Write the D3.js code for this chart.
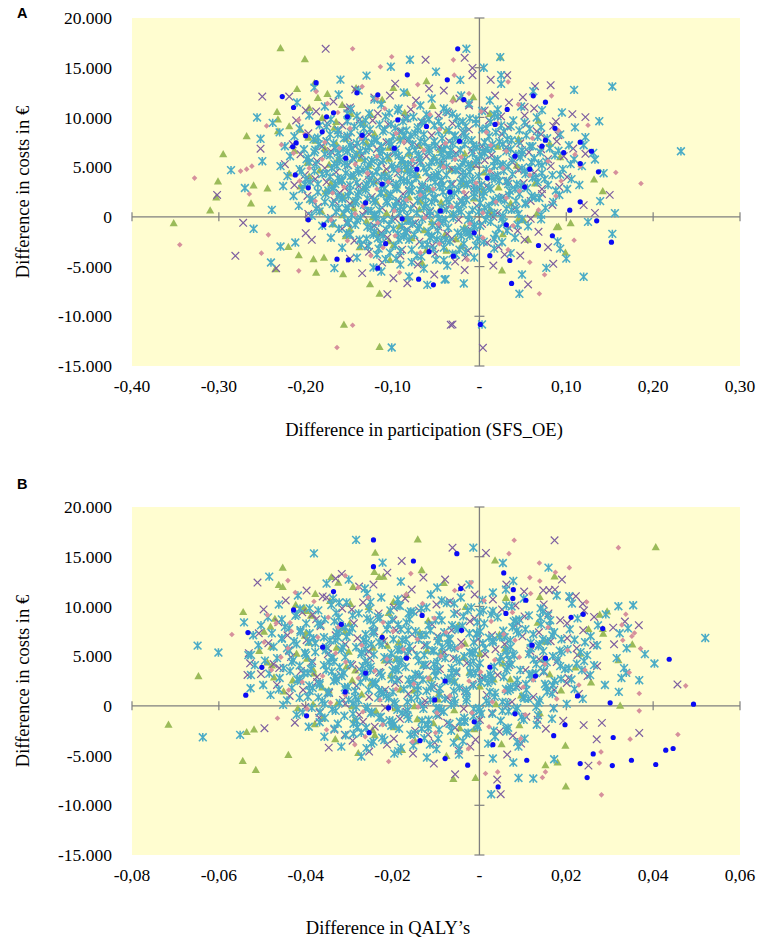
<!DOCTYPE html>
<html>
<head>
<meta charset="utf-8">
<script src="https://cdn.jsdelivr.net/npm/d3@7"></script>
<style>
  body { margin: 0; background: #fff; }
  svg text { font-family: "Liberation Serif", "Times New Roman", serif; fill: #000; }
</style>
</head>
<body>
<svg id="chart" width="765" height="946"></svg>
<script>

// ---- tick values / labels ----
var costTicks = [20000, 15000, 10000, 5000, 0, -5000, -10000, -15000];
var costLabels = ["20.000", "15.000", "10.000", "5.000", "0", "-5.000", "-10.000", "-15.000"];
var partTicks = [-0.4, -0.3, -0.2, -0.1, 0, 0.1, 0.2, 0.3];
var partLabels = ["-0,40", "-0,30", "-0,20", "-0,10", "-", "0,10", "0,20", "0,30"];
var qalyTicks = [-0.08, -0.06, -0.04, -0.02, 0, 0.02, 0.04, 0.06];
var qalyLabels = ["-0,08", "-0,06", "-0,04", "-0,02", "-", "0,02", "0,04", "0,06"];

// ---- panel A: difference in participation (x) vs difference in costs (y), flat x,y pairs ----
var aGreen = [-.229,16900,-.201,15800,-.190,13400,-.233,10500,-.232,9750,-.232,8550,-.219,9050,-.268,8050,-.295,6250,-.301,3500,-.303,1900,-.310,600,-.260,3100,-.244,2800,-.263,1300,-.352,-700,.024,16000,.132,3700,.142,2520,.099,-3650,.105,-700,.056,-2350,.091,-1040,.026,-5450,-.235,-5330,-.188,-5660,-.220,-3080,-.208,-3920,-.191,-4320,-.179,-4160,-.157,-5830,-.126,-6840,-.115,-7780,-.156,-10900,-.115,-13140,
  -.030,11800,-.007,11970,.012,10300,.068,9620,.045,7780,.081,7290,.093,5950,.066,250,.045,-250,.089,-1100,-.038,-3450,.014,250,
  -.21,12800,-.175,12300,-.158,11200,-.196,10900,-.181,9900,-.148,10300,-.206,8700,-.167,8900,-.134,9400,-.112,11700,-.083,12400,-.054,11100,-.189,7600,-.154,7800,-.121,8300,-.092,7900,-.213,6600,-.178,6800,-.141,6300,-.104,6900,-.069,7100,-.038,8600,-.198,5400,-.163,5700,-.127,5100,-.088,5500,-.052,5900,-.017,6300,.021,7000,-.219,4300,-.184,4600,-.146,4000,-.109,4400,-.071,4100,-.033,4700,.005,4400,.043,5100,-.206,3000,-.171,3300,-.133,2800,-.095,3100,-.058,2700,-.019,3200,.022,2900,.064,3300,-.194,1700,-.157,2000,-.119,1500,-.081,1900,-.044,1400,-.006,1800,.036,1300,-.182,500,-.145,800,-.107,300,-.069,700,-.031,200,.012,600,.051,-400,-.168,-800,-.13,-500,-.092,-1000,-.055,-600,-.017,-1100,.027,-1800,-.154,-2000,-.116,-1700,-.078,-2200,-.04,-1900,-.138,-3100,-.099,-2900,-.061,-3400,-.021,-3000,-.103,-4400,-.066,-4700,
  -.186,11900,-.142,12900,-.099,12900,-.061,13600,-.165,9500,-.125,10200,-.086,10400,-.197,7900,-.165,7300,-.13,7400,-.173,5200,-.137,5800,-.104,5800,-.081,6300,-.045,6700,-.196,4000,-.159,3600,-.121,3500,-.084,4700,-.044,5300,-.009,5200,-.177,2500,-.145,1500,-.107,2200,-.068,1500,-.032,2500,.004,2600,-.158,100,-.123,-100,-.084,-300,-.046,600,-.149,-1300,-.104,-2500,-.064,-1400,-.027,-2300];

var aPurple = [-.177,16900,-.062,15800,-.250,12100,-.219,12100,-.200,10700,-.252,6850,-.302,2200,-.272,-600,-.017,16000,-.008,14980,-.008,14250,.013,13780,.032,14250,.064,13140,.082,13240,.050,12030,.052,11060,.063,10900,.107,10330,.122,10030,.085,9150,.091,8210,.108,6870,.122,6340,.150,2210,.120,1180,.133,400,.079,-3050,.085,-4720,.056,-6800,.047,-3890,-.031,-10820,.004,-13170,-.017,-5350,-.281,-3920,-.234,-5160,-.106,-7780,-.135,-5660,-.099,-6170,-.083,-6670,-.033,-10860,-.197,300,-.193,-2310,-.200,-1640,
  -.143,12800,-.097,13400,-.041,12700,.018,12200,-.168,11600,-.121,12000,-.073,11700,-.023,11900,.034,11500,-.188,10600,-.152,10900,-.117,10400,-.079,10800,-.036,10500,.006,10700,.052,10200,-.211,9700,-.175,9400,-.138,9800,-.105,9300,-.067,9600,-.031,9400,.011,9700,.054,9300,.088,9600,-.197,8400,-.162,8700,-.127,8300,-.091,8600,-.055,8200,-.019,8500,.026,8300,.066,8600,-.215,7300,-.176,7600,-.143,7100,-.107,7500,-.072,7200,-.035,7600,.003,7100,.047,7400,.089,7600,-.206,6300,-.171,6600,-.135,6200,-.099,6500,-.061,6100,-.027,6400,.014,6200,.057,6500,.097,6100,-.224,5300,-.187,5600,-.151,5200,-.113,5500,-.077,5100,-.042,5400,-.004,5200,.038,5500,.082,5100,-.201,4200,-.165,4500,-.128,4100,-.094,4400,-.058,4000,-.021,4300,.019,4100,.063,4400,.101,4000,-.213,3200,-.176,3500,-.139,3100,-.103,3400,-.066,3000,-.031,3300,.008,3100,.051,3400,.092,3000,-.198,2100,-.161,2400,-.124,2000,-.088,2300,-.052,1900,-.016,2200,.027,2000,.072,2300,-.186,1000,-.149,1300,-.112,900,-.076,1200,-.039,800,-.003,1100,.041,900,.084,1200,-.171,-100,-.134,200,-.097,-200,-.061,100,-.024,-300,.016,0,.059,-200,-.158,-1200,-.121,-900,-.083,-1300,-.047,-1000,-.009,-1400,.034,-1100,.068,-1500,-.144,-2400,-.106,-2100,-.069,-2500,-.032,-2200,.009,-2600,.052,-2300,-.127,-3500,-.089,-3300,-.051,-3700,-.013,-3400,.029,-3800,-.112,-4600,-.071,-4800,-.028,-4500,.016,-4900,-.149,-4200,-.052,-5800,
  -.149,11000,-.103,12200,-.058,12900,-.012,11200,.025,10100,-.158,9200,-.123,9700,-.085,9900,-.047,10200,-.012,8800,.033,9000,.071,8300,-.181,7100,-.151,8000,-.118,6800,-.083,7600,-.046,7000,-.009,6700,.031,7000,.071,6800,-.178,4900,-.145,5800,-.107,4800,-.069,5700,-.032,4800,.006,5700,.045,4700,.079,5800,-.189,3800,-.155,2900,-.117,3700,-.081,2700,-.044,3700,-.006,2800,.033,3600,.072,2800,-.167,1600,-.131,600,-.093,1600,-.057,500,-.021,1500,.021,400,.059,1600,-.152,-700,-.113,-1600,-.074,-600,-.037,-1700,.003,-700,.044,-1400,-.129,-2900,-.091,-3900,-.054,-2900,-.016,-4100,.022,-3000];

var aCyan = [-.080,15800,-.102,15100,-.256,10000,-.238,9450,-.252,7850,-.286,4700,-.239,700,-.015,16900,.024,16060,-.022,13780,.025,14250,.025,13380,.109,12770,.153,13110,.062,12640,.072,10730,.138,9620,.122,8010,.131,6440,.133,5770,.232,6600,.143,4390,.139,1580,.156,370,.153,-1710,.090,-2470,.093,-3190,.077,-5130,.120,-6030,.046,-7740,.049,-5800,.003,-10820,-.040,-6300,-.018,-6700,-.229,-2980,-.240,-4590,-.212,-2580,-.167,-5160,-.113,-5500,-.081,-6000,-.060,-6840,-.039,-6270,-.101,-13140,
  -.19,13000,-.16,13800,-.13,14200,-.05,14600,.005,15000,-.21,11500,-.23,8500,-.25,5600,-.27,2900,-.26,-1200,.095,10500,.11,9000,.115,3200,.125,-500,.1,-4200,.085,1500,.105,5300,.12,7200,
  -.162,12300,-.121,11800,-.087,12500,-.055,11900,-.021,12200,.012,11700,-.139,12700,-.178,11100,-.148,10800,-.113,11300,-.094,10700,-.068,11200,-.041,10900,-.012,11400,.021,10800,.048,11100,-.196,10200,-.171,9800,-.152,10400,-.131,9700,-.108,10100,-.083,9900,-.061,10300,-.047,9600,-.026,10000,-.004,9800,.017,10300,.039,9700,.066,10000,-.207,8900,-.184,9200,-.163,8700,-.144,9100,-.126,8800,-.102,9300,-.089,8600,-.071,9000,-.052,9200,-.035,8700,-.016,9100,.003,8800,.025,9200,.046,8700,.071,9000,-.213,8100,-.191,7800,-.172,8300,-.156,7900,-.137,8200,-.118,7700,-.099,8100,-.081,7800,-.064,8300,-.043,7900,-.028,8200,-.009,7700,.011,8100,.032,7800,.054,8200,.078,7900,.093,8300,-.224,7100,-.202,6800,-.185,7300,-.166,6900,-.149,7200,-.131,6700,-.113,7100,-.096,6800,-.077,7300,-.058,6900,-.039,7200,-.022,6700,-.003,7000,.015,7300,.036,6800,.058,7100,.081,6900,.103,7200,-.218,6100,-.199,5800,-.178,6300,-.161,5900,-.142,6200,-.124,5700,-.106,6100,-.089,5800,-.07,6300,-.053,5900,-.034,6200,-.017,5700,.002,6100,.021,5800,.042,6300,.063,5900,.087,6200,.109,5800,-.229,5100,-.207,4800,-.188,5300,-.17,4900,-.152,5200,-.134,4700,-.116,5100,-.099,4800,-.082,5300,-.064,4900,-.045,5200,-.028,4700,-.01,5100,.008,4800,.027,5300,.049,4900,.072,5200,.096,4800,.118,5100,-.221,4100,-.2,3800,-.181,4300,-.163,3900,-.145,4200,-.127,3700,-.109,4100,-.091,3800,-.074,4300,-.056,3900,-.038,4200,-.02,3700,-.001,4100,.018,3800,.038,4300,.061,3900,.084,4200,.106,3800,-.226,3100,-.204,2800,-.186,3300,-.168,2900,-.149,3200,-.131,2700,-.113,3100,-.095,2800,-.078,3300,-.06,2900,-.042,3200,-.024,2700,-.006,3100,.013,2800,.033,3300,.055,2900,.079,3200,.101,2800,-.214,2100,-.195,1800,-.177,2300,-.158,1900,-.14,2200,-.122,1700,-.104,2100,-.086,1800,-.069,2300,-.051,1900,-.033,2200,-.015,1700,.004,2100,.024,1800,.046,2300,.069,1900,.092,2200,-.208,1100,-.188,800,-.169,1300,-.151,900,-.133,1200,-.115,700,-.097,1100,-.079,800,-.062,1300,-.044,900,-.026,1200,-.008,700,.011,1100,.031,800,.053,1300,.076,900,-.193,100,-.174,-200,-.156,300,-.137,-100,-.119,200,-.101,-300,-.083,100,-.066,-200,-.048,300,-.03,-100,-.012,200,.007,-300,.027,100,.049,-200,.071,200,-.181,-900,-.162,-1200,-.143,-800,-.125,-1100,-.107,-1300,-.089,-900,-.071,-1200,-.054,-800,-.036,-1100,-.018,-1300,.001,-900,.022,-1200,.044,-800,-.171,-2100,-.149,-1800,-.13,-2200,-.111,-1900,-.093,-2300,-.075,-1800,-.057,-2100,-.039,-2300,-.021,-1900,-.002,-2200,.019,-1800,.041,-2100,-.158,-3100,-.136,-2800,-.116,-3200,-.097,-2900,-.078,-3300,-.06,-2800,-.041,-3100,-.023,-3300,-.004,-2900,.017,-3200,-.141,-4100,-.118,-3800,-.096,-4200,-.072,-3900,-.05,-4300,-.027,-3800,-.006,-4100,-.122,-5100,-.091,-4800,-.064,-5200,-.037,-4900,
  -.148,8500,-.111,8600,-.074,8400,-.047,8600,-.018,8400,.019,8500,-.176,7600,-.141,7400,-.104,7500,-.068,7600,-.031,7400,.006,7500,.045,7600,-.19,6500,-.152,6600,-.115,6400,-.081,6600,-.044,6500,-.008,6400,.031,6600,.07,6500,-.196,5500,-.161,5600,-.125,5400,-.09,5600,-.055,5500,-.019,5400,.017,5600,.06,5500,-.19,4600,-.154,4400,-.118,4500,-.083,4600,-.047,4400,-.011,4500,.028,4600,.072,4400,-.195,3500,-.158,3600,-.122,3400,-.087,3600,-.051,3500,-.015,3400,.023,3600,.067,3500,-.186,2500,-.149,2600,-.113,2400,-.078,2600,-.042,2500,-.006,2400,.035,2600,-.178,1500,-.142,1600,-.106,1400,-.071,1600,-.035,1500,.001,1400,.042,1600,-.165,500,-.128,600,-.092,400,-.057,600,-.021,500,.017,400,-.152,-500,-.116,-600,-.08,-400,-.045,-600,-.009,-500,-.121,-1500,-.084,-1600,-.048,-1400,-.012,-1600,
  -.152,9600,-.127,10400,-.093,10900,-.066,9500,-.038,10600,-.011,9900,.021,10100,-.163,8300,-.133,8900,-.115,9300,-.084,8700,-.058,9800,-.029,8100,-.004,9400,.028,8600,.052,9500,-.168,7400,-.147,6900,-.121,7800,-.101,7300,-.079,8200,-.063,7500,-.041,6800,-.024,7700,-.007,7200,.014,6900,.037,7700,.061,7100,-.172,6200,-.155,5400,-.137,6600,-.118,5900,-.097,6400,-.086,5300,-.069,6000,-.049,5600,-.033,6700,-.013,5300,.006,6400,.024,5200,.047,6000,.068,5400,-.176,4400,-.159,3700,-.14,4800,-.123,4200,-.105,3600,-.09,4700,-.073,3900,-.061,4500,-.044,3600,-.027,4700,-.008,3800,.012,4500,.031,3600,.053,4300,.075,3800,-.169,2700,-.151,2100,-.131,3000,-.114,2400,-.096,3300,-.081,2600,-.062,2000,-.046,3000,-.029,2400,-.014,3200,.005,2500,.022,1900,.041,2800,.06,2100,-.162,900,-.143,1400,-.125,600,-.107,1600,-.091,1000,-.072,400,-.055,1500,-.038,700,-.019,1300,-.001,500,.018,1500,.037,700,-.151,-600,-.129,-1000,-.11,-300,-.094,-1700,-.077,-700,-.059,-1500,-.042,-400,-.025,-1600,-.006,-800,.013,-500,.032,-1400,-.138,-2300,-.114,-2700,-.087,-2000,-.066,-2800,-.044,-2400,-.018,-2700,.005,-2500,-.103,-3600,-.067,-4000,-.031,-3700,
  -.133,8100,-.109,8800,-.088,9600,-.071,8700,-.044,9100,-.019,9600,.008,8900,.036,9100,-.157,6800,-.134,7600,-.112,6600,-.091,7700,-.074,6700,-.052,7600,-.036,6200,-.017,7300,.004,6600,.027,7300,.049,6700,-.164,5100,-.146,5900,-.129,4900,-.111,5700,-.094,4900,-.078,5700,-.058,5100,-.042,5900,-.022,5000,-.003,5800,.017,5100,.038,5800,.058,5000,-.166,3300,-.148,4100,-.13,3300,-.113,4000,-.096,3000,-.08,4300,-.066,3200,-.049,4200,-.033,3300,-.016,4200,.002,3200,.021,4200,.043,3300,.065,4000,-.158,1800,-.139,2500,-.12,1500,-.102,2300,-.086,1400,-.068,2700,-.052,1800,-.035,2600,-.02,1600,-.003,2800,.016,1700,.034,2200,.053,1400,-.147,200,-.119,-100,-.099,800,-.082,-400,-.064,900,-.047,-200,-.03,300,-.013,-300,.006,900,.026,-200,.045,300,-.122,-1800,-.099,-1200,-.081,-2300,-.055,-1900,-.034,-2500,-.011,-1900,.017,-2200,
  -.141,10150,-.104,10450,-.076,10050,-.031,10350,.003,10650,-.176,9050,-.137,9350,-.097,8950,-.063,9450,-.024,9250,.013,9550,.058,8850,-.186,7950,-.152,8150,-.124,7450,-.087,8150,-.051,7150,-.016,8050,.023,7550,.067,8050,-.189,6750,-.163,6450,-.127,6950,-.093,6150,-.058,6650,-.028,5950,.009,6850,.049,6350,.091,6650,-.197,5950,-.167,5350,-.132,5650,-.101,5150,-.068,5450,-.038,5050,-.004,5550,.033,5050,.077,5550,-.205,4550,-.172,4050,-.139,4450,-.104,3950,-.079,4650,-.052,4150,-.019,4450,.014,3950,.052,4650,.093,4250,-.201,3250,-.174,2650,-.141,3450,-.109,2850,-.083,3550,-.054,2650,-.022,3450,.011,2950,.048,3150,.088,2650,-.192,1650,-.163,2050,-.129,1850,-.096,1550,-.066,2150,-.038,1750,-.006,2050,.029,1650,.064,1950,-.184,550,-.154,850,-.121,250,-.087,750,-.057,150,-.024,650,.009,250,.043,750,.071,-250,-.169,-650,-.141,-350,-.104,-750,-.069,-950,-.039,-250,-.006,-1050,.028,-550,.056,-950,-.153,-1650,-.117,-2150,-.086,-1450,-.049,-2250,-.014,-1550,.026,-2550,-.128,-2950,-.091,-3450,-.053,-3250,-.016,-3550,.036,-3650,-.108,-4250,-.078,-4550,-.041,-4350];

var aPink = [-.146,16900,-.101,16100,-.114,15100,-.208,9750,-.245,9150,-.228,7250,-.328,3900,-.275,4600,-.268,4800,-.262,5100,-.265,2300,-.345,-2800,-.030,15790,-.029,14250,.033,13580,.083,12170,.125,9220,.091,8680,.110,6270,.116,5100,.157,4460,.186,3350,.109,-2350,.075,-5830,.069,-7740,.058,-4560,-.251,-3650,-.243,-1810,-.208,-5430,-.146,-10900,-.164,-13140,
  -.188,12600,-.135,13100,-.071,13300,-.012,12400,-.163,10500,-.109,10900,-.057,10300,.002,10600,.045,11300,-.201,8300,-.149,8900,-.096,8400,-.046,8800,.008,8500,.061,7900,-.214,6400,-.161,6900,-.118,6100,-.064,6700,-.021,6000,.031,6600,.079,5600,-.196,4900,-.143,5300,-.093,4700,-.041,5000,.012,4600,.058,4200,.094,3600,-.207,3600,-.156,3000,-.105,3500,-.053,2800,-.004,3400,.046,2600,.088,2100,-.189,1600,-.134,1100,-.084,1700,-.032,1000,.019,1500,.068,700,-.171,-300,-.117,-600,-.063,-100,-.011,-700,.039,-900,-.152,-2400,-.097,-1900,-.046,-2700,.004,-2100,-.125,-3900,-.068,-3600,-.014,-4300,.033,-3300,-.092,-5600,
  -.175,11400,-.118,11900,-.075,11200,-.031,11600,.021,9400,-.178,7500,-.136,7900,-.087,7500,-.039,7400,.013,7200,-.181,5800,-.129,4400,-.077,5700,-.028,5800,.027,4900,-.169,2400,-.118,2800,-.068,2200,-.018,2500,.031,1900,-.143,300,-.098,600,-.047,-700,.004,400,-.111,-3100];

var aBlue = [-.188,13500,-.227,12100,-.214,11000,-.025,16900,-.037,13780,.062,12170,.076,11530,.116,7510,.076,7710,.072,7110,.097,6470,.129,6600,.116,5360,.137,4530,.116,1510,.104,670,.135,-400,.152,-2550,.068,-2880,.037,-6700,.035,-4390,.001,-10820,-.030,-3950,-.164,-4260,-.151,-4320,-.117,-5160,-.070,-6270,-.053,-6840,-.197,-300,-.179,-800,
  -.186,9450,-.176,10060,-.181,8550,-.168,10460,-.152,10060,-.141,12470,-.117,12270,-.211,7440,-.215,7040,-.200,8150,-.212,4220,-.197,2920,-.083,14280,-.094,9750,
  -.135,8200,-.098,6900,-.061,9100,-.023,7600,.018,9300,.041,6100,-.154,5900,-.112,3300,-.072,4800,-.034,2500,.009,3900,.052,3000,-.131,1400,-.089,-200,-.045,600,-.006,-1600,.031,-800,.084,-1900,-.108,-2700,-.058,-3500,.012,-3900,.058,4800,.087,8900,-.018,11800,.032,10800];

// ---- panel B: difference in QALY's (x) vs difference in costs (y), flat x,y pairs ----
var bGreen = [.0406,15910,.0036,14570,.0173,12960,.0139,10890,.0277,9110,.0294,9450,.0251,7670,.0285,7200,.0284,7670,.0352,6130,.0320,4530,.0324,-30,.0199,-8150,-.0060,-7410,-.0009,-7310,.0152,-6030,.0180,-5740,.0198,-4060,-.0142,16690,-.0240,15340,-.0453,13840,-.0242,13400,-.0221,12930,-.0325,12330,-.0544,9380,-.0647,2940,-.0716,-1950,-.0507,5460,-.0536,-2690,-.0519,-2420,-.0404,9810,-.0545,-5600,-.0515,-6500,-.044,-5000,
  -.0462,12100,-.0378,11200,-.0291,11900,-.0423,10100,-.0344,10500,-.0255,9900,-.0168,11100,-.0082,12300,-.0471,8700,-.0388,9000,-.0299,8200,-.0209,9300,-.0118,8500,-.0032,9900,.0061,10800,-.0496,7400,-.0402,7000,-.0317,7800,-.0224,6900,-.0137,7300,-.0049,8000,.0046,7100,.0134,8300,-.0479,5900,-.0392,6300,-.0301,5400,-.0212,6000,-.0121,5500,-.0033,6200,.0059,5700,.0152,6400,.0231,5200,-.0488,4300,-.0397,4700,-.0306,3900,-.0218,4500,-.0129,4100,-.0037,4800,.0054,4200,.0147,4600,.0221,3800,-.0473,2800,-.0381,3200,-.0293,2500,-.0204,3000,-.0114,2700,-.0023,3300,.0071,2600,.0162,3100,.0257,2300,-.0451,1400,-.0362,1800,-.0271,1100,-.0182,1600,-.0093,1200,.0001,1900,.0096,1000,.0188,1500,-.0418,-300,-.0327,200,-.0238,-600,-.0149,-100,-.0058,-500,.0038,100,.0139,-800,-.0379,-1900,-.0288,-1500,-.0197,-2200,-.0106,-1800,-.0012,-2400,.0092,-2000,-.0332,-3400,-.0241,-3000,-.0148,-3600,-.0051,-3200,.0051,-3900,-.0279,-4800,-.0178,-4500,-.0076,-5100,
  -.0453,11900,-.0341,12900,-.0231,12900,-.0133,13600,-.0399,9500,-.0297,10200,-.0198,10400,-.0481,7900,-.0399,7300,-.0309,7400,-.0421,5200,-.0329,5800,-.0245,5800,-.0186,6300,-.0093,6700,-.0478,4000,-.0383,3600,-.0286,3500,-.0192,4700,-.0089,5300,.0001,5200,-.043,2500,-.0347,1500,-.025,2200,-.0151,1500,-.0059,2500,.0033,2600,-.0383,100,-.0293,-100,-.0193,-300,-.0095,600,-.0361,-1300,-.0246,-2500,-.0143,-1400,-.0045,-2300];

var bPurple = [.0173,16650,-.0062,15910,.0015,15380,.0190,12700,.0147,11620,.0161,11620,.0174,11690,.0208,10950,.0222,11030,.0238,10270,.0264,8940,.0335,8480,.0367,8110,.0308,7870,.0310,6190,.0456,2150,.0368,-2720,.0270,-3360,.0251,-6010,.0041,-7410,.0049,-8890,-.0056,-6880,.0240,-1940,.0282,-1710,-.0511,12400,-.0179,14570,-.0317,13270,-.0528,4280,-.0534,3110,-.0495,-2250,-.0425,-1690,
  -.0331,12800,-.0212,13400,-.0079,12700,.0062,12200,-.0398,11600,-.0277,12000,-.0156,11700,-.0041,11900,.0103,11500,-.0446,10600,-.0352,10900,-.0268,10400,-.0171,10800,-.0068,10500,.0031,10700,.0148,10200,-.0497,9700,-.0408,9400,-.0316,9800,-.0232,9300,-.0139,9600,-.0052,9400,.0052,9700,.0159,9300,.0241,9600,-.0463,8400,-.0376,8700,-.0289,8300,-.0198,8600,-.0109,8200,-.0022,8500,.0089,8300,.0186,8600,-.0508,7300,-.0412,7600,-.0331,7100,-.0242,7500,-.0155,7200,-.0064,7600,.0029,7100,.0137,7400,.0239,7600,-.0486,6300,-.0398,6600,-.0309,6200,-.022,6500,-.0126,6100,-.0042,6400,.0058,6200,.0164,6500,.0262,6100,-.0531,5300,-.0439,5600,-.0349,5200,-.0255,5500,-.0167,5100,-.0081,5400,.0013,5200,.0117,5500,.0226,5100,-.0474,4200,-.0385,4500,-.0293,4100,-.0209,4400,-.0121,4000,-.0029,4300,.0069,4100,.0178,4400,.0271,4000,-.0503,3200,-.0411,3500,-.0319,3100,-.0231,3400,-.0139,3000,-.0053,3300,.0042,3100,.0148,3400,.0249,3000,-.0466,2100,-.0374,2400,-.0283,2000,-.0194,2300,-.0105,1900,-.0016,2200,.0089,2000,.0201,2300,-.0437,1000,-.0346,1300,-.0254,900,-.0164,1200,-.0073,800,.0017,1100,.0124,900,.0229,1200,-.0401,-100,-.0309,200,-.0217,-200,-.0128,100,-.0036,-300,.0063,0,.0171,-200,-.0369,-1200,-.0277,-900,-.0183,-1300,-.0094,-1000,.0001,-1400,.0108,-1100,.0193,-1500,-.0334,-2400,-.0241,-2100,-.0148,-2500,-.0056,-2200,.0046,-2600,.0153,-2300,-.0292,-3500,-.0197,-3300,-.0103,-3700,-.0009,-3400,.0096,-3800,-.0254,-4600,-.0153,-4800,-.0048,-4500,.0064,-4900,-.0347,-4200,-.0105,-5800,
  -.0361,11000,-.0244,12200,-.0129,12900,-.0011,11200,.0083,10100,-.0384,9200,-.0294,9700,-.0197,9900,-.0099,10200,-.0011,8800,.0104,9000,.0202,8300,-.0442,7100,-.0366,8000,-.0281,6800,-.0192,7600,-.0097,7000,-.0003,6700,.0099,7000,.0202,6800,-.0434,4900,-.0349,5800,-.0252,4800,-.0155,5700,-.006,4800,.0037,5700,.0137,4700,.0224,5800,-.0461,3800,-.0374,2900,-.0277,3700,-.0185,2700,-.0091,3700,.0006,2800,.0106,3600,.0205,2800,-.0406,1600,-.0314,600,-.0217,1600,-.0125,500,-.0033,1500,.0075,400,.0172,1600,-.0368,-700,-.0268,-1600,-.0168,-600,-.0074,-1700,.0029,-700,.0134,-1400,-.031,-2900,-.0213,-3900,-.0118,-2900,-.0021,-4100,.0077,-3000];

var bCyan = [-.0014,15910,.0054,14370,.0159,13900,.0078,12560,.0207,11030,.0320,10020,.0354,10120,.0520,6830,.0403,4260,.0338,3320,.0368,2580,.0321,1410,.0090,-7250,.0027,-8890,.0124,-7310,.0172,-5370,.0078,-5700,-.0284,16690,-.0381,15340,-.0484,13000,-.0223,14410,-.0542,8400,-.0649,6060,-.0601,5360,-.0637,-3160,-.0526,5120,-.0527,1770,-.0551,-2920,-.0478,7300,-.0455,8700,-.0413,9780,
  -.0352,12300,-.0264,11800,-.0181,12500,-.0097,11900,-.0023,12200,.0061,11700,-.0301,12700,-.0418,11100,-.0337,10800,-.0259,11300,-.0188,10700,-.0112,11200,-.0043,10900,.0031,11400,.0102,10800,.0178,11100,-.0462,10200,-.0391,9800,-.0323,10400,-.0254,9700,-.0186,10100,-.0122,9900,-.0058,10300,.0009,9600,.0074,10000,.0141,9800,.0213,10300,-.0487,8900,-.0421,9200,-.0356,8700,-.0292,9100,-.0229,8800,-.0163,9300,-.0101,8600,-.0037,9000,.0027,9200,.0092,8700,.0158,9100,.0226,8800,.0291,9200,-.0503,8100,-.0438,7800,-.0372,8300,-.0309,7900,-.0244,8200,-.0181,7700,-.0117,8100,-.0053,7800,.0011,8300,.0076,7900,.0142,8200,.0208,7700,.0273,8100,.0342,7800,-.0521,7100,-.0455,6800,-.0391,7300,-.0326,6900,-.0262,7200,-.0198,6700,-.0134,7100,-.0071,6800,-.0006,7300,.0058,6900,.0124,7200,.0189,6700,.0256,7000,.0323,7300,-.0509,6100,-.0443,5800,-.0378,6300,-.0314,5900,-.0249,6200,-.0185,5700,-.0121,6100,-.0057,5800,.0008,6300,.0072,5900,.0138,6200,.0203,5700,.0271,6100,.0339,5800,-.0532,5100,-.0466,4800,-.0401,5300,-.0337,4900,-.0272,5200,-.0208,4700,-.0144,5100,-.0079,4800,-.0015,5300,.0049,4900,.0114,5200,.0181,4700,.0248,5100,.0316,4800,.0381,5200,-.0517,4100,-.0451,3800,-.0386,4300,-.0322,3900,-.0257,4200,-.0193,3700,-.0129,4100,-.0064,3800,.0001,4300,.0065,3900,.0131,4200,.0197,3700,.0264,4100,.0333,3800,-.0526,3100,-.046,2800,-.0395,3300,-.0331,2900,-.0266,3200,-.0202,2700,-.0138,3100,-.0073,2800,-.0009,3300,.0056,2900,.0121,3200,.0188,2700,.0255,3100,.0327,2800,-.0498,2100,-.0432,1800,-.0368,2300,-.0303,1900,-.0239,2200,-.0174,1700,-.011,2100,-.0046,1800,.0019,2300,.0084,1900,.0151,2200,.0219,1700,.0289,2100,-.0481,1100,-.0414,800,-.035,1300,-.0286,900,-.0221,1200,-.0157,700,-.0093,1100,-.0029,800,.0036,1300,.0101,900,.0168,1200,.0238,700,-.0452,100,-.0386,-200,-.0322,300,-.0258,-100,-.0193,200,-.0129,-300,-.0065,100,-.0001,-200,.0064,300,.0131,-100,.0201,200,-.0421,-900,-.0356,-1200,-.0291,-800,-.0227,-1100,-.0163,-1300,-.0099,-900,-.0035,-1200,.003,-800,.0097,-1100,.0167,-1300,-.0393,-2100,-.0326,-1800,-.0261,-2200,-.0197,-1900,-.0133,-2300,-.0069,-1800,-.0004,-2100,.0062,-2300,.0132,-1900,-.0357,-3100,-.029,-2800,-.0224,-3200,-.0159,-2900,-.0095,-3300,-.003,-2800,.0036,-3100,.0104,-3300,-.0318,-4100,-.0249,-3800,-.0181,-4200,-.0114,-3900,-.0047,-4300,.002,-3800,.009,-4100,-.0272,-5100,-.0196,-4800,-.0121,-5200,-.0047,-4900,.0031,-5300,
  -.0334,8500,-.0251,8600,-.0168,8400,-.0087,8600,-.0005,8400,.0079,8500,.0163,8600,-.0412,7600,-.0329,7400,-.0246,7500,-.0164,7600,-.0081,7400,.0002,7500,.0086,7600,.0172,7400,-.0427,6500,-.0344,6600,-.0261,6400,-.0178,6600,-.0096,6500,-.0013,6400,.0071,6600,.0157,6500,.0243,6400,-.0438,5500,-.0354,5600,-.0271,5400,-.0188,5600,-.0105,5500,-.0022,5400,.0061,5600,.0147,5500,.0233,5400,-.0429,4600,-.0346,4400,-.0263,4500,-.018,4600,-.0097,4400,-.0014,4500,.0069,4600,.0155,4400,.0241,4500,-.0436,3500,-.0353,3600,-.027,3400,-.0187,3600,-.0104,3500,-.0021,3400,.0062,3600,.0148,3500,.0236,3600,-.0412,2500,-.0329,2600,-.0246,2400,-.0163,2600,-.008,2500,.0003,2400,.0087,2600,.0173,2500,-.0391,1500,-.0308,1600,-.0225,1400,-.0142,1600,-.0059,1500,.0024,1400,.0108,1600,-.0362,500,-.0279,600,-.0196,400,-.0113,600,-.003,500,.0053,400,.0139,600,-.0331,-500,-.0248,-600,-.0165,-400,-.0082,-600,.0001,-500,.0084,-400,-.0283,-1500,-.02,-1600,-.0117,-1400,-.0034,-1600,.0049,-1500,
  -.0371,9600,-.0306,10400,-.0226,10900,-.0158,9500,-.0087,10600,-.0019,9900,.0062,10100,-.0399,8300,-.0324,8900,-.0278,9300,-.0201,8700,-.0134,9800,-.0063,8100,.0001,9400,.0084,8600,.0146,9500,-.0412,7400,-.0358,6900,-.0293,7800,-.0243,7300,-.0187,8200,-.0147,7500,-.0092,6800,-.0049,7700,-.0006,7200,.0047,6900,.0106,7700,.0168,7100,-.0421,6200,-.0378,5400,-.0332,6600,-.0284,5900,-.0231,6400,-.0203,5300,-.0161,6000,-.0109,5600,-.0068,6700,-.0017,5300,.0031,6400,.0077,5200,.0136,6000,.0189,5400,-.0432,4400,-.0388,3700,-.0341,4800,-.0297,4200,-.0251,3600,-.0213,4700,-.017,3900,-.014,4500,-.0096,3600,-.0053,4700,-.0004,3800,.0046,4500,.0094,3600,.015,4300,.0206,3800,-.0414,2700,-.0368,2100,-.0317,3000,-.0274,2400,-.0228,3300,-.019,2600,-.0142,2000,-.0101,3000,-.0057,2400,-.0019,3200,.0029,2500,.0072,1900,.0121,2800,.0169,2100,-.0395,900,-.0347,1400,-.0301,600,-.0255,1600,-.0214,1000,-.0166,400,-.0122,1500,-.0079,700,-.003,1300,.0016,500,.0065,1500,.0113,700,-.0367,-600,-.0311,-1000,-.0262,-300,-.0222,-1700,-.0178,-700,-.0132,-1500,-.0088,-400,-.0045,-1600,.0004,-800,.0053,-500,.0102,-1400,-.0334,-2300,-.0272,-2700,-.0203,-2000,-.0149,-2800,-.0093,-2400,-.0026,-2700,.0033,-2500,-.0244,-3600,-.0152,-4000,-.0059,-3700,
  -.0321,8100,-.0259,8800,-.0205,9600,-.0161,8700,-.0092,9100,-.0027,9600,.0042,8900,.0114,9100,-.0382,6800,-.0323,7600,-.0267,6600,-.0213,7700,-.0169,6700,-.0113,7600,-.0072,6200,-.0023,7300,.0031,6600,.009,7300,.0146,6700,-.0399,5100,-.0353,5900,-.0309,4900,-.0263,5700,-.0219,4900,-.0178,5700,-.0127,5100,-.0086,5900,-.0035,5000,.0013,5800,.0064,5100,.0118,5800,.0169,5000,-.0404,3300,-.0358,4100,-.0312,3300,-.0269,4000,-.0225,3000,-.0184,4300,-.0148,3200,-.0105,4200,-.0064,3300,-.0021,4200,.0025,3200,.0074,4200,.013,3300,.0186,4000,-.0384,1800,-.0335,2500,-.0286,1500,-.024,2300,-.0199,1400,-.0153,2700,-.0112,1800,-.0068,2600,-.003,1600,.0013,2800,.0061,1700,.0107,2200,.0156,1400,-.0356,200,-.0284,-100,-.0233,800,-.0189,-400,-.0143,900,-.0099,-200,-.0056,300,-.0013,-300,.0035,900,.0087,-200,.0136,300,-.029,-1800,-.0231,-1200,-.0185,-2300,-.0119,-1900,-.0065,-2500,-.0006,-1900,.0066,-2200,
  -.0341,10150,-.0251,10450,-.0183,10050,-.0075,10350,.0007,10650,-.0424,9050,-.033,9350,-.0234,8950,-.0152,9450,-.0058,9250,.0031,9550,.014,8850,-.0448,7950,-.0366,8150,-.0299,7450,-.021,8150,-.0123,7150,-.0039,8050,.0055,7550,.0161,8050,-.0455,6750,-.0393,6450,-.0306,6950,-.0224,6150,-.014,6650,-.0067,5950,.0022,6850,.0118,6350,.0219,6650,-.0474,5950,-.0402,5350,-.0318,5650,-.0243,5150,-.0164,5450,-.0092,5050,-.001,5550,.008,5050,.0185,5550,-.0494,4550,-.0414,4050,-.0335,4450,-.025,3950,-.019,4650,-.0125,4150,-.0046,4450,.0034,3950,.0125,4650,.0224,4250,-.0484,3250,-.0419,2650,-.034,3450,-.0262,2850,-.02,3550,-.013,2650,-.0053,3450,.0027,2950,.0116,3150,.0212,2650,-.0462,1650,-.0392,2050,-.031,1850,-.0231,1550,-.0159,2150,-.0091,1750,-.0014,2050,.007,1650,.0154,1950,-.0443,550,-.0371,850,-.0291,250,-.0209,750,-.0137,150,-.0058,650,.0022,250,.0103,750,.0171,-250,-.0407,-650,-.0339,-350,-.025,-750,-.0166,-950,-.0094,-250,-.0014,-1050,.0067,-550,.0135,-950,-.0368,-1650,-.0281,-2150,-.0207,-1450,-.0118,-2250,-.0034,-1550,.0063,-2550,-.0308,-2950,-.0219,-3450,-.0127,-3250,-.0038,-3550,.0087,-3650,-.026,-4250,-.0187,-4550,-.0099,-4350];

var bPink = [.0080,16650,.0320,15910,.0068,15310,.0138,14370,.0207,13900,.0175,13430,.0116,12900,.0139,12560,.0247,10450,.0337,9210,.0328,8140,.0351,7000,.0357,7330,.0371,5760,.0330,6600,.0475,2010,.0345,3360,.0368,1240,.0368,-500,.0457,-2880,.0347,-3350,.0276,-5740,.0280,-4630,.0281,-8950,.0014,-6810,.0042,-6640,.0145,-7210,.0152,-6640,-.0488,9140,-.0570,7170,-.0465,-1250,-.0436,8370,
  -.0441,12600,-.0309,13100,-.0158,13300,-.0019,12400,-.0381,10500,-.0256,10900,-.0131,10300,.0011,10600,.0118,11300,-.0468,8300,-.0348,8900,-.0222,8400,-.0104,8800,.0027,8500,.0158,7900,-.0496,6400,-.0372,6900,-.0271,6100,-.0143,6700,-.0041,6000,.0082,6600,.0203,5600,-.0457,4900,-.0331,5300,-.0213,4700,-.0089,5000,.0035,4600,.0151,4200,.0243,3600,-.0479,3600,-.0361,3000,-.0241,3500,-.0118,2800,.0003,3400,.0124,2600,.0229,2100,-.0439,1600,-.0309,1100,-.0192,1700,-.0068,1000,.0057,1500,.0178,700,-.0397,-300,-.0268,-600,-.0141,-100,-.0017,-700,.0106,-900,-.0352,-2400,-.0223,-1900,-.0101,-2700,.0022,-2100,-.0287,-3900,-.0154,-3600,-.0025,-4300,.0095,-3300,-.0209,-5600,
  -.0424,11400,-.0279,11900,-.0169,11200,-.0057,11600,.0076,9400,-.0433,7500,-.0325,7900,-.0199,7500,-.0077,7400,.0056,7200,-.0441,5800,-.0308,4400,-.0175,5700,-.005,5800,.0092,4900,-.0408,2400,-.0279,2800,-.0151,2200,-.0024,2500,.0101,1900,-.0343,300,-.0229,600,-.0098,-700,.003,400,-.0263,-3100];

var bBlue = [-.0052,15310,.0056,13370,.0078,11690,.0107,10620,.0239,9210,.0284,7770,.0437,4690,.0493,170,.0301,300,.0308,-3180,.0429,-4460,.0446,-4290,.0350,-5470,.0406,-5900,.0306,-6010,.0262,-4830,.0232,-5800,.0248,-7210,.0043,-8150,-.0079,-5300,-.0027,-5970,.0109,-5470,-.0244,16690,-.0244,14000,-.0152,14570,-.0336,11490,-.0533,7370,-.0538,1070,-.0501,3880,-.0428,9650,
  -.0318,8200,-.0224,6900,-.0132,9100,-.0041,7600,.0061,9300,.0121,6100,-.0361,5900,-.0262,3300,-.0168,4800,-.0079,2500,.0024,3900,.0129,3000,-.0309,1400,-.0209,-200,-.0103,600,-.0012,-1600,.0082,-800,.0197,-1900,-.0254,-2700,-.0137,-3500,.0031,-3900,.0152,4800,.0211,8900,-.0043,11800,.0077,10800,-.0398,-1000,.0171,-3000,.0226,1000];

// ---- marker styles (drawing order = order in this list) ----
var markers = [
  { key: "green",  color: "#9bbb59", kind: "triangle" },
  { key: "purple", color: "#7d5fa0", kind: "cross" },
  { key: "cyan",   color: "#4bacc6", kind: "star" },
  { key: "pink",   color: "#d6909c", kind: "diamond" },
  { key: "blue",   color: "#0a0af5", kind: "circle" }
];

function pairs(flat) {
  var out = [];
  for (var i = 0; i < flat.length; i += 2) out.push({ x: flat[i], y: flat[i + 1] });
  return out;
}

function markerPath(kind) {
  switch (kind) {
    case "triangle": return "M0,-4.7L4.1,2.5L-4.1,2.5Z";
    case "diamond":  return "M0,-2.8L2.8,0L0,2.8L-2.8,0Z";
    case "cross":    return "M-3.8,-3.8L3.8,3.8M-3.8,3.8L3.8,-3.8";
    case "star":     return "M-3.9,-3.9L3.9,3.9M-3.9,3.9L3.9,-3.9M0,-4.2L0,4.2";
  }
  return null;
}

var svg = d3.select("#chart");

function drawPanel(p) {
  var x = d3.scaleLinear().domain(p.xDomain).range([132, 740]);
  var y = d3.scaleLinear().domain([-15000, 20000]).range([p.bottom, p.top]);
  var g = svg.append("g");

  g.append("rect")
    .attr("x", x.range()[0]).attr("y", p.top)
    .attr("width", x.range()[1] - x.range()[0])
    .attr("height", p.bottom - p.top)
    .attr("fill", "#fffdd0");

  // axes crossing at zero
  var axisColor = "#7f7f7f";
  g.append("line")
    .attr("x1", x.range()[0]).attr("x2", x.range()[1])
    .attr("y1", y(0)).attr("y2", y(0))
    .attr("stroke", axisColor).attr("stroke-width", 1.3);
  g.append("line")
    .attr("x1", x(0)).attr("x2", x(0))
    .attr("y1", p.top).attr("y2", p.bottom)
    .attr("stroke", axisColor).attr("stroke-width", 1.3);

  g.selectAll(".xt").data(p.xTicks).enter().append("line")
    .attr("x1", function(d) { return x(d); }).attr("x2", function(d) { return x(d); })
    .attr("y1", y(0) - 4.5).attr("y2", y(0) + 4.5)
    .attr("stroke", axisColor).attr("stroke-width", 1.2);
  g.selectAll(".yt").data(costTicks).enter().append("line")
    .attr("x1", x(0) - 5).attr("x2", x(0) + 5)
    .attr("y1", function(d) { return y(d); }).attr("y2", function(d) { return y(d); })
    .attr("stroke", axisColor).attr("stroke-width", 1.2);

  // points
  markers.forEach(function(m) {
    var pts = pairs(p.series[m.key]);
    var sel = g.append("g").selectAll("path").data(pts).enter();
    if (m.kind === "circle") {
      sel.append("circle")
        .attr("cx", function(d) { return x(d.x); })
        .attr("cy", function(d) { return y(d.y); })
        .attr("r", 2.6).attr("fill", m.color);
    } else {
      var filled = m.kind === "triangle" || m.kind === "diamond";
      sel.append("path")
        .attr("d", markerPath(m.kind))
        .attr("transform", function(d) { return "translate(" + x(d.x) + "," + y(d.y) + ")"; })
        .attr("fill", filled ? m.color : "none")
        .attr("stroke", filled ? "none" : m.color)
        .attr("stroke-width", m.kind === "star" ? 1.55 : 1.2);
    }
  });

  // tick labels
  g.selectAll(".yl").data(costTicks).enter().append("text")
    .attr("x", 112).attr("y", function(d) { return y(d); })
    .attr("dy", "0.35em").attr("text-anchor", "end")
    .style("font-size", "17.5px")
    .text(function(d, i) { return costLabels[i]; });
  g.selectAll(".xl").data(p.xTicks).enter().append("text")
    .attr("x", function(d) { return x(d); }).attr("y", p.bottom + 26)
    .attr("text-anchor", "middle")
    .style("font-size", "17.5px")
    .text(function(d, i) { return p.xLabels[i]; });

  // titles
  g.append("text")
    .attr("transform", "translate(29," + ((p.top + p.bottom) / 2) + ") rotate(-90)")
    .attr("text-anchor", "middle")
    .style("font-size", "18.5px")
    .text("Difference in costs in €");
  g.append("text")
    .attr("x", p.titleX).attr("y", p.titleY)
    .attr("text-anchor", "middle")
    .style("font-size", "18.5px")
    .text(p.xTitle);
  g.append("text")
    .attr("x", 17).attr("y", p.letterY)
    .style("font-family", "'Liberation Sans', Arial, sans-serif")
    .style("font-weight", "bold").style("font-size", "14.5px")
    .text(p.letter);
}

drawPanel({
  letter: "A", letterY: 18, top: 18, bottom: 366,
  xDomain: [-0.4, 0.3], xTicks: partTicks, xLabels: partLabels,
  xTitle: "Difference in participation (SFS_OE)", titleX: 424, titleY: 436,
  series: { green: aGreen, purple: aPurple, cyan: aCyan, pink: aPink, blue: aBlue }
});

drawPanel({
  letter: "B", letterY: 489, top: 507, bottom: 855,
  xDomain: [-0.08, 0.06], xTicks: qalyTicks, xLabels: qalyLabels,
  xTitle: "Difference in QALY\u2019s", titleX: 388, titleY: 934,
  series: { green: bGreen, purple: bPurple, cyan: bCyan, pink: bPink, blue: bBlue }
});

</script>
</body>
</html>
